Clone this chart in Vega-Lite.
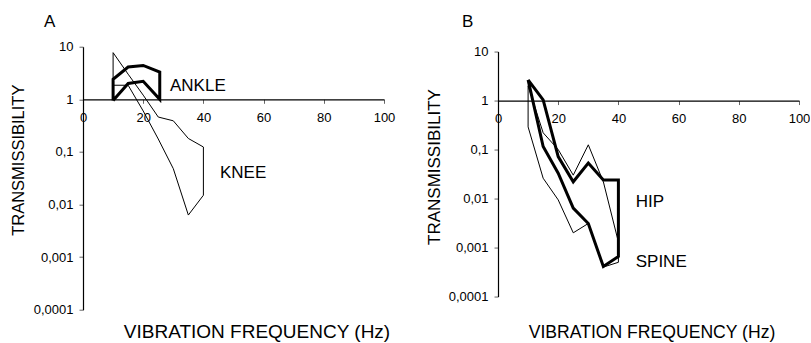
{
  "$schema": "https://vega.github.io/schema/vega-lite/v6.json",
  "padding": {"left": 9, "top": 12.5, "right": 0, "bottom": 0},
  "spacing": 29,
  "center": true,
  "datasets": {
    "curvesA": [
      {"series": "ANKLE", "i": 0, "f": 10, "t": 0.95},
      {"series": "ANKLE", "i": 1, "f": 10, "t": 2.4},
      {"series": "ANKLE", "i": 2, "f": 15, "t": 4.1},
      {"series": "ANKLE", "i": 3, "f": 20, "t": 4.4},
      {"series": "ANKLE", "i": 4, "f": 25.5, "t": 3.3},
      {"series": "ANKLE", "i": 5, "f": 25.5, "t": 1.0},
      {"series": "ANKLE", "i": 6, "f": 20, "t": 2.2},
      {"series": "ANKLE", "i": 7, "f": 15, "t": 2.0},
      {"series": "ANKLE", "i": 8, "f": 10, "t": 0.95},
      {"series": "KNEE", "i": 0, "f": 10, "t": 7.7},
      {"series": "KNEE", "i": 1, "f": 15, "t": 3.0},
      {"series": "KNEE", "i": 2, "f": 20, "t": 1.2},
      {"series": "KNEE", "i": 3, "f": 25, "t": 0.46},
      {"series": "KNEE", "i": 4, "f": 30, "t": 0.39},
      {"series": "KNEE", "i": 5, "f": 35, "t": 0.18},
      {"series": "KNEE", "i": 6, "f": 40, "t": 0.124},
      {"series": "KNEE", "i": 7, "f": 40, "t": 0.015},
      {"series": "KNEE", "i": 8, "f": 35, "t": 0.0063},
      {"series": "KNEE", "i": 9, "f": 30, "t": 0.048},
      {"series": "KNEE", "i": 10, "f": 25, "t": 0.176},
      {"series": "KNEE", "i": 11, "f": 20, "t": 0.6},
      {"series": "KNEE", "i": 12, "f": 15, "t": 1.85},
      {"series": "KNEE", "i": 13, "f": 10, "t": 1.85},
      {"series": "KNEE", "i": 14, "f": 10, "t": 7.7}
    ],
    "labelsA": [
      {"f": 28.9, "t": 1.44, "label": "ANKLE"},
      {"f": 45.5, "t": 0.0319, "label": "KNEE"},
      {"f": -12.96, "t": 23.4, "label": "A"}
    ],
    "curvesB": [
      {"series": "HIP", "i": 0, "f": 10, "t": 2.65},
      {"series": "HIP", "i": 1, "f": 15, "t": 1.03},
      {"series": "HIP", "i": 2, "f": 20, "t": 0.072},
      {"series": "HIP", "i": 3, "f": 25, "t": 0.022},
      {"series": "HIP", "i": 4, "f": 30, "t": 0.053},
      {"series": "HIP", "i": 5, "f": 35, "t": 0.024},
      {"series": "HIP", "i": 6, "f": 40, "t": 0.024},
      {"series": "HIP", "i": 7, "f": 40, "t": 0.00066},
      {"series": "HIP", "i": 8, "f": 35, "t": 0.00041},
      {"series": "HIP", "i": 9, "f": 30, "t": 0.0031},
      {"series": "HIP", "i": 10, "f": 25, "t": 0.0064},
      {"series": "HIP", "i": 11, "f": 20, "t": 0.033},
      {"series": "HIP", "i": 12, "f": 15, "t": 0.115},
      {"series": "HIP", "i": 13, "f": 10, "t": 2.65},
      {"series": "SPINE", "i": 0, "f": 10, "t": 2.0},
      {"series": "SPINE", "i": 1, "f": 15, "t": 0.22},
      {"series": "SPINE", "i": 2, "f": 20, "t": 0.1},
      {"series": "SPINE", "i": 3, "f": 25, "t": 0.03},
      {"series": "SPINE", "i": 4, "f": 30, "t": 0.125},
      {"series": "SPINE", "i": 5, "f": 35, "t": 0.022},
      {"series": "SPINE", "i": 6, "f": 40, "t": 0.0013},
      {"series": "SPINE", "i": 7, "f": 40, "t": 0.0005},
      {"series": "SPINE", "i": 8, "f": 35, "t": 0.0004},
      {"series": "SPINE", "i": 9, "f": 30, "t": 0.0031},
      {"series": "SPINE", "i": 10, "f": 25, "t": 0.002},
      {"series": "SPINE", "i": 11, "f": 20, "t": 0.0094},
      {"series": "SPINE", "i": 12, "f": 15, "t": 0.026},
      {"series": "SPINE", "i": 13, "f": 10, "t": 0.29},
      {"series": "SPINE", "i": 14, "f": 10, "t": 2.0}
    ],
    "labelsB": [
      {"f": 45.75, "t": 0.00667, "label": "HIP"},
      {"f": 45.75, "t": 0.000408, "label": "SPINE"},
      {"f": -11.96, "t": 31.9, "label": "B"}
    ]
  },
  "hconcat": [
    {
      "width": 301,
      "height": 263,
      "layer": [
        {
          "data": {"name": "curvesA"},
          "transform": [{"filter": "datum.series == 'KNEE'"}],
          "mark": {"type": "line", "color": "#000", "strokeWidth": 1, "strokeJoin": "miter"},
          "encoding": {
            "x": {"field": "f", "type": "quantitative", "scale": {"domain": [0, 100], "nice": false},
              "axis": {"orient": "bottom", "offset": -210.4, "values": [0, 10, 20, 30, 40, 50, 60, 70, 80, 90, 100],
                "labelExpr": "datum.value % 20 == 0 ? datum.label : ''", "tickSize": 4, "labelPadding": 8,
                "labelFontSize": 13, "labelFlush": false, "labelOverlap": false,
                "title": ["VIBRATION FREQUENCY (Hz)", ""], "titleLineHeight": 5, "titleFontSize": 19, "titleX": 173.5, "titleY": 238,
                "titleAlign": "center", "titleBaseline": "alphabetic"}},
            "y": {"field": "t", "type": "quantitative", "scale": {"type": "log", "domain": [0.0001, 10], "nice": false},
              "axis": {"orient": "left", "values": [0.0001, 0.001, 0.01, 0.1, 1, 10],
                "labelExpr": "datum.value >= 1 ? format(datum.value, 'd') : replace(format(datum.value, '.4~f'), '.', ',')",
                "tickSize": 4, "labelPadding": 6, "labelFontSize": 13,
                "title": "TRANSMISSIBILITY", "titleFontSize": 16.5, "titleX": -65, "titleY": 113,
                "titleAngle": -90, "titleAlign": "center", "titleBaseline": "middle"}},
            "detail": {"field": "series"},
            "order": {"field": "i", "type": "quantitative"}
          }
        },
        {
          "data": {"name": "curvesA"},
          "transform": [{"filter": "datum.series == 'ANKLE'"}],
          "mark": {"type": "line", "color": "#000", "strokeWidth": 3, "strokeJoin": "miter"},
          "encoding": {
            "x": {"field": "f", "type": "quantitative"},
            "y": {"field": "t", "type": "quantitative"},
            "detail": {"field": "series"},
            "order": {"field": "i", "type": "quantitative"}
          }
        },
        {
          "data": {"name": "labelsA"},
          "mark": {"type": "text", "align": "left", "baseline": "alphabetic", "fontSize": 17, "color": "#000"},
          "encoding": {
            "x": {"field": "f", "type": "quantitative"},
            "y": {"field": "t", "type": "quantitative"},
            "text": {"field": "label"}
          }
        }
      ]
    },
    {
      "width": 301,
      "height": 245,
      "layer": [
        {
          "data": {"name": "curvesB"},
          "transform": [{"filter": "datum.series == 'SPINE'"}],
          "mark": {"type": "line", "color": "#000", "strokeWidth": 1, "strokeJoin": "miter"},
          "encoding": {
            "x": {"field": "f", "type": "quantitative", "scale": {"domain": [0, 100], "nice": false},
              "axis": {"orient": "bottom", "offset": -196, "values": [0, 10, 20, 30, 40, 50, 60, 70, 80, 90, 100],
                "labelExpr": "datum.value % 20 == 0 ? datum.label : ''", "tickSize": 4, "labelPadding": 8,
                "labelFontSize": 13, "labelFlush": false, "labelOverlap": false,
                "title": "VIBRATION FREQUENCY (Hz)", "titleFontSize": 17.6, "titleX": 153.5, "titleY": 237.3,
                "titleAlign": "center", "titleBaseline": "alphabetic"}},
            "y": {"field": "t", "type": "quantitative", "scale": {"type": "log", "domain": [0.0001, 10], "nice": false},
              "axis": {"orient": "left", "values": [0.0001, 0.001, 0.01, 0.1, 1, 10],
                "labelExpr": "datum.value >= 1 ? format(datum.value, 'd') : replace(format(datum.value, '.4~f'), '.', ',')",
                "tickSize": 4, "labelPadding": 6, "labelFontSize": 13,
                "title": "TRANSMISSIBILITY", "titleFontSize": 17, "titleX": -64, "titleY": 115,
                "titleAngle": -90, "titleAlign": "center", "titleBaseline": "middle"}},
            "detail": {"field": "series"},
            "order": {"field": "i", "type": "quantitative"}
          }
        },
        {
          "data": {"name": "curvesB"},
          "transform": [{"filter": "datum.series == 'HIP'"}],
          "mark": {"type": "line", "color": "#000", "strokeWidth": 3, "strokeJoin": "miter"},
          "encoding": {
            "x": {"field": "f", "type": "quantitative"},
            "y": {"field": "t", "type": "quantitative"},
            "detail": {"field": "series"},
            "order": {"field": "i", "type": "quantitative"}
          }
        },
        {
          "data": {"name": "labelsB"},
          "mark": {"type": "text", "align": "left", "baseline": "alphabetic", "fontSize": 17, "color": "#000"},
          "encoding": {
            "x": {"field": "f", "type": "quantitative"},
            "y": {"field": "t", "type": "quantitative"},
            "text": {"field": "label"}
          }
        }
      ]
    }
  ],
  "config": {
    "font": "Liberation Sans",
    "view": {"stroke": null},
    "axis": {"grid": false, "domainColor": "#000", "domainWidth": 1.2, "tickColor": "#666", "labelColor": "#000",
      "titleColor": "#000", "titleFontWeight": "normal", "labelFont": "Liberation Sans", "titleFont": "Liberation Sans"},
    "text": {"font": "Liberation Sans"}
  }
}
